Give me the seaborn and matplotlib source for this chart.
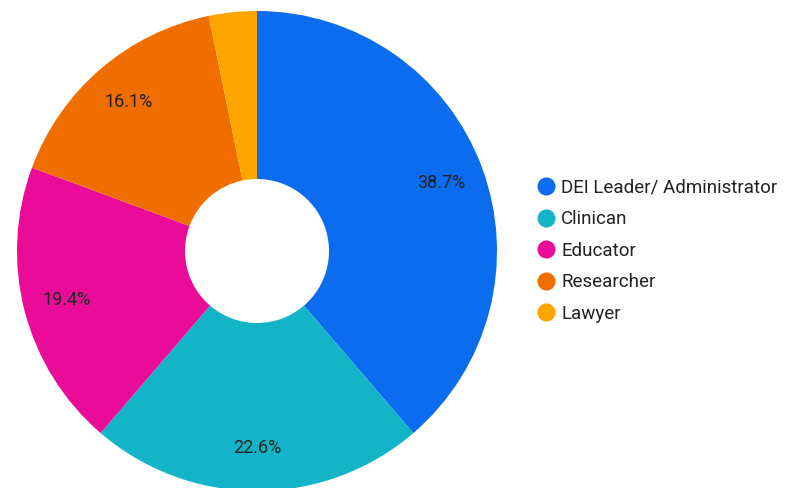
import matplotlib
matplotlib.use("Agg")
import matplotlib.pyplot as plt
from matplotlib.lines import Line2D
import seaborn as sns

categories = ["DEI Leader/ Administrator", "Clinican", "Educator", "Researcher", "Lawyer"]
counts = [12, 7, 6, 5, 1]
colors = ["#0b6cf0", "#14b4c8", "#ea0c98", "#f06d00", "#ffa500"]

sns.set_theme(style="white")
plt.rcParams["font.family"] = ["Roboto", "DejaVu Sans"]

fig = plt.figure(figsize=(7.94, 4.88), dpi=100)
ax = fig.add_axes([17 / 794, -3 / 488, 480 / 794, 480 / 488])


def fmt(pct):
    return f"{pct:.1f}%" if pct > 5 else ""


wedges, texts, autotexts = ax.pie(
    counts,
    colors=colors,
    startangle=90,
    counterclock=False,
    autopct=fmt,
    pctdistance=0.82,
    radius=1,
    wedgeprops=dict(width=0.7, linewidth=0),
    textprops=dict(fontsize=13, color="#222222"),
)
ax.set_xlim(-1, 1)
ax.set_ylim(-1, 1)
ax.set_aspect("equal")
ax.axis("off")

handles = [
    Line2D([0], [0], marker="o", linestyle="", markersize=13,
           markerfacecolor=c, markeredgewidth=0)
    for c in colors
]
fig.legend(
    handles, categories,
    loc="upper left",
    bbox_to_anchor=(520 / 794, 1 - 162 / 488),
    frameon=False,
    fontsize=13.5,
    handlelength=1.0,
    handletextpad=0.3,
    labelspacing=0.72,
    labelcolor="#222222",
)

fig.savefig("out.png", dpi=100)
